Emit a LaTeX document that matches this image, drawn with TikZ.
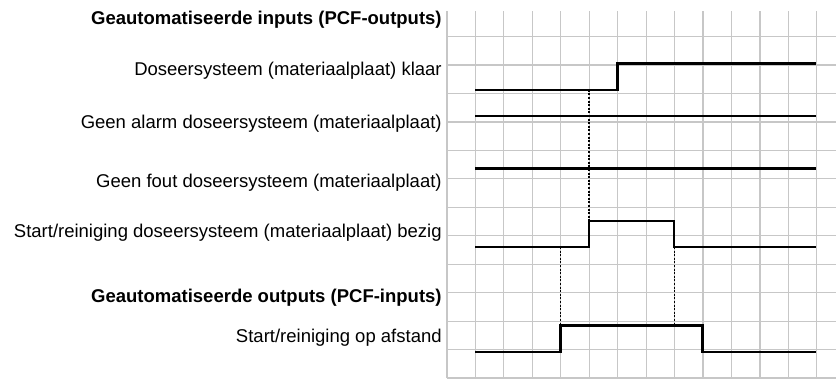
\documentclass[tikz,border=0pt]{standalone}
\usepackage{fontspec}
\setmainfont{Liberation Sans}
\usetikzlibrary{positioning}

\begin{document}
\begin{tikzpicture}[x=28.4pt, y=26.2pt,
    gridline/.style={draw=black!22, line width=1.2pt},
    signal/.style={line width=2.6pt, line join=miter},
    sync/.style={line width=1.1pt, dash pattern=on 2pt off 1.6pt},
    lbl/.style={anchor=base east, inner sep=0pt, font=\fontsize{18.5}{22}\selectfont},
    kop/.style={lbl, font=\fontsize{18.5}{22}\selectfont\bfseries}]
    \useasboundingbox (-15.74,-0.115) rectangle (13.70,14.43);
    \draw[gridline] (0,0) grid (13.70,14);
    % labels
    \node[kop] (kopin) at (-0.18,13.51) {Geautomatiseerde inputs (PCF-outputs)};
    \node[lbl] (klaar) at (-0.18,11.53) {Doseersysteem (materiaalplaat) klaar};
    \node[lbl] (alarm) at (-0.18,9.54) {Geen alarm doseersysteem (materiaalplaat)};
    \node[lbl] (fout) at (-0.18,7.29) {Geen fout doseersysteem (materiaalplaat)};
    \node[lbl] (bezig) at (-0.18,5.38) {Start/reiniging doseersysteem (materiaalplaat) bezig};
    \node[kop] (kopuit) at (-0.18,2.90) {Geautomatiseerde outputs (PCF-inputs)};
    \node[lbl] (afstand) at (-0.18,1.37) {Start/reiniging op afstand};
    % dotted sync lines
    \draw[sync] (5,11) -- (5,6);
    \draw[sync] (4,5) -- (4,2);
    \draw[sync] (8,5) -- (8,2);
    % signals
    \draw[signal] (1,11) -- (6,11) -- (6,12) -- (13,12);
    \draw[signal] (1,10) -- (13,10);
    \draw[signal] (1,8) -- (13,8);
    \draw[signal] (1,5) -- (5,5) -- (5,6) -- (8,6) -- (8,5) -- (13,5);
    \draw[signal] (1,1) -- (4,1) -- (4,2) -- (9,2) -- (9,1) -- (13,1);
\end{tikzpicture}
\end{document}
